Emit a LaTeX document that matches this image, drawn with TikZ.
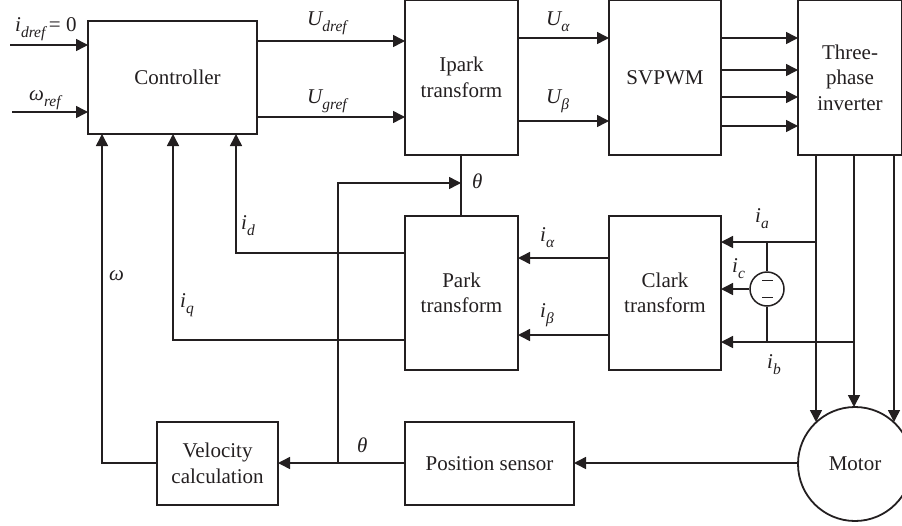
\documentclass[tikz,border=0pt]{standalone}
\usepackage{fontspec}
\setmainfont{Liberation Serif}
\usetikzlibrary{arrows.meta}
\definecolor{ink}{HTML}{231F20}
\tikzset{
 x=1pt,y=-1pt,
 blk/.style={draw=ink,line width=1.8pt,align=center,inner sep=0pt,text=ink,font=\fontsize{21}{25.5}\selectfont},
 conn/.style={draw=ink,line width=1.5pt},
 arr/.style={conn,-{Triangle[length=12pt,width=12pt]}},
 lbl/.style={text=ink,inner sep=0pt,font=\fontsize{21}{24}\selectfont\itshape}
}
\newcommand{\bx}[6]{\node[blk,minimum width=#4 pt - #2 pt,minimum height=#5 pt - #3 pt] (#1) at ({(#2+#4)/2},{(#3+#5)/2}) {#6};}
\newcommand{\sub}[1]{\raisebox{-0.3em}{\fontsize{15.5}{15.5}\selectfont\itshape #1}}
\begin{document}
\begin{tikzpicture}
\useasboundingbox (0,0) rectangle (902,525);
\bx{ctrl}{88}{21}{257}{134}{\hspace*{10pt}Controller}
\bx{ipark}{405}{0}{518}{155}{Ipark\\transform}
\bx{svpwm}{609}{0}{721}{155}{SVPWM}
\bx{inv}{798}{0}{902}{155}{Three-\\phase\\inverter}
\bx{park}{405}{216}{518}{370}{Park\\transform}
\bx{clark}{609}{216}{721}{370}{Clark\\transform}
\bx{vel}{157}{422}{278}{505}{Velocity\\calculation}
\bx{pos}{405}{422}{574}{505}{Position sensor}
\node[blk,circle,minimum size=114pt] (motor) at (855,464) {Motor};
\node[draw=ink,line width=1.5pt,circle,minimum size=34pt,inner sep=0pt,fill=white] (src) at (767,289) {};
\draw[draw=ink,line width=0.8pt] (762,280)--(773,280) (762,297)--(773,297);

\coordinate (in1) at (10,45); \coordinate (in2) at (12,112);
\draw[arr] (in1)--(88,45);
\draw[arr] (in2)--(88,112);
\draw[arr] (257,41)--(405,41);
\draw[arr] (257,117)--(405,117);
\draw[arr] (518,38)--(609,38);
\draw[arr] (518,121)--(609,121);
\draw[arr] (721,38)--(798,38);
\draw[arr] (721,70)--(798,70);
\draw[arr] (721,97)--(798,97);
\draw[arr] (721,126)--(798,126);
\draw[conn] (461,155)--(461,216);
\draw[arr] (338,463)--(338,183)--(461,183);
\draw[arr] (405,253)--(236,253)--(236,134);
\draw[arr] (405,340)--(173,340)--(173,134);
\draw[arr] (157,463)--(102,463)--(102,134);
\draw[arr] (405,463)--(278,463);
\draw[arr] (798,463)--(574,463);
\draw[arr] (609,258)--(518,258);
\draw[arr] (609,335)--(518,335);
\draw[arr] (816,242)--(721,242);
\draw[arr] (854,342)--(721,342);
\draw[arr] (src.west)--(721,289);
\draw[conn] (767,242)--(src.north);
\draw[conn] (src.south)--(767,342);
\draw[arr] (816,155)--(816,422);
\draw[arr] (854,155)--(854,407);
\draw[arr] (894,155)--(894,422);

\node[lbl,anchor=base west] at (15,31) {i\sub{dref}\,{\upshape = 0}};
\node[lbl,anchor=base west] at (29,100) {ω\sub{ref}};
\node[lbl,anchor=base west] at (307,25) {U\sub{dref}};
\node[lbl,anchor=base west] at (307,103) {U\sub{gref}};
\node[lbl,anchor=base west] at (546,25) {U\sub{α}};
\node[lbl,anchor=base west] at (546,103) {U\sub{β}};
\node[lbl,anchor=base west] at (472,188) {θ};
\node[lbl,anchor=base west] at (241,229) {i\sub{d}};
\node[lbl,anchor=base west] at (180,307) {i\sub{q}};
\node[lbl,anchor=base west] at (109,280) {ω};
\node[lbl,anchor=base west] at (540,241) {i\sub{α}};
\node[lbl,anchor=base west] at (540,317) {i\sub{β}};
\node[lbl,anchor=base west] at (755,222) {i\sub{a}};
\node[lbl,anchor=base west] at (732,272) {i\sub{c}};
\node[lbl,anchor=base west] at (767,368) {i\sub{b}};
\node[lbl,anchor=base west] at (357,452) {θ};
\end{tikzpicture}
\end{document}
